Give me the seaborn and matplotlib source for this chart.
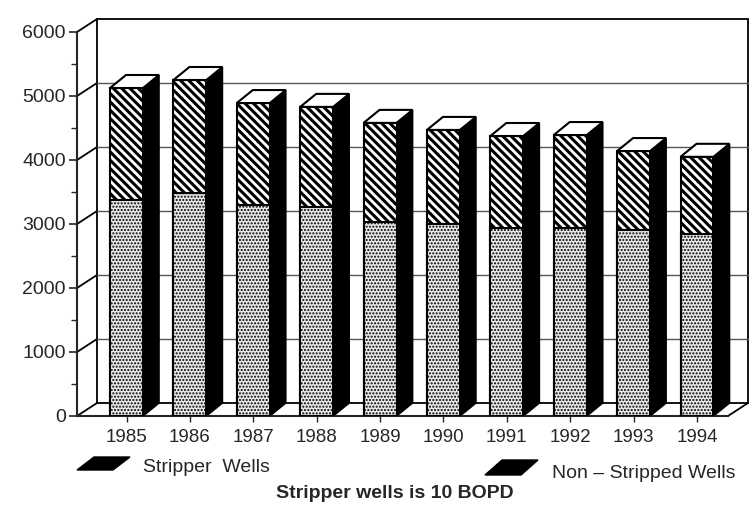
import numpy as np
import pandas as pd
import seaborn as sns
import matplotlib.pyplot as plt
from matplotlib.patches import Polygon
from matplotlib.ticker import MultipleLocator

# data
years = ['1985', '1986', '1987', '1988', '1989', '1990', '1991', '1992', '1993', '1994']
stripper = [3375, 3485, 3300, 3265, 3030, 3000, 2940, 2940, 2905, 2845]
non_stripped = [1750, 1765, 1590, 1565, 1550, 1470, 1435, 1450, 1235, 1205]
yticks = [0, 1000, 2000, 3000, 4000, 5000, 6000]

df = pd.DataFrame({'year': years, 'stripper': stripper, 'non_stripped': non_stripped})
df['total'] = df['stripper'] + df['non_stripped']

sns.set_style('white')
plt.rcParams['font.family'] = ['Liberation Sans', 'DejaVu Sans']
plt.rcParams['hatch.linewidth'] = 2.2

W, H = 754, 519
fig = plt.figure(figsize=(W / 100, H / 100), dpi=100)
# axes box in pixels: left 77, right 728, top 32, bottom 416
ax = fig.add_axes([77 / W, (H - 416) / H, (728 - 77) / W, (416 - 32) / H])

# stacked bars: full height first (hatched), then the lower part (stipple)
sns.barplot(data=df, x='year', y='total', color='white', edgecolor='black',
            linewidth=1.5, width=0.52, hatch='\\\\\\\\', ax=ax, zorder=3)
n_top = len(ax.patches)
plt.rcParams['hatch.linewidth'] = 1.0
sns.barplot(data=df, x='year', y='stripper', color='#e8e8e8', edgecolor='black',
            linewidth=1.5, width=0.52, hatch='.....', ax=ax, zorder=3)

xmin, xmax = -0.781, 9.489
ax.set_xlim(xmin, xmax)
ax.set_ylim(0, 6000)

# pixel -> data units, for the fake 3d depth
ux = (xmax - xmin) / (728 - 77)
uy = 6000 / (416 - 32)
wdx, wdy = 20 * ux, 13 * uy      # wall depth
bdx, bdy = 16 * ux, 13 * uy      # bar depth

# back wall, side wall diagonals and floor
lk = dict(color='black', lw=1.3, clip_on=False, zorder=1)
ax.plot([xmin + wdx, xmin + wdx], [wdy, 6000 + wdy], **lk)
ax.plot([xmax + wdx, xmax + wdx], [wdy, 6000 + wdy], **lk)
ax.plot([xmin + wdx, xmax + wdx], [6000 + wdy, 6000 + wdy], **lk)
ax.plot([xmin + wdx, xmax + wdx], [wdy, wdy], **lk)
ax.plot([xmax, xmax + wdx], [0, wdy], **lk)
for v in yticks:
    ax.plot([xmin, xmin + wdx], [v, v + wdy], **lk)
    if 0 < v < 6000:
        ax.plot([xmin + wdx, xmax + wdx], [v + wdy, v + wdy], color='#555555',
                lw=1.0, clip_on=False, zorder=1)

# side and top faces of every bar
for p in ax.patches[:n_top]:
    x0, w, h = p.get_x(), p.get_width(), p.get_height()
    side = Polygon([(x0 + w, 0), (x0 + w, h), (x0 + w + bdx, h + bdy), (x0 + w + bdx, bdy)],
                   closed=True, facecolor='black', edgecolor='black', lw=1.2,
                   clip_on=False, zorder=2)
    top = Polygon([(x0, h), (x0 + w, h), (x0 + w + bdx, h + bdy), (x0 + bdx, h + bdy)],
                  closed=True, facecolor='white', edgecolor='black', lw=1.5,
                  clip_on=False, zorder=4)
    ax.add_patch(side)
    ax.add_patch(top)

sns.despine(ax=ax, top=True, right=True)
ax.spines['left'].set_linewidth(1.5)
ax.spines['bottom'].set_linewidth(1.5)
ax.set_yticks(yticks)
ax.yaxis.set_minor_locator(MultipleLocator(500))
ax.tick_params(axis='y', which='major', direction='out', length=6, width=1.2,
               labelsize=14, pad=2, left=True)
ax.tick_params(axis='y', which='minor', direction='out', length=4, width=1.0, left=True)
ax.tick_params(axis='x', direction='out', length=4, width=1.0, labelsize=13.5, pad=5,
               bottom=True)
ax.set_xlabel('')
ax.set_ylabel('')


def fp(x, y):
    return (x / W, (H - y) / H)


# legend drawn by hand: black parallelogram swatches
for pts in ([(77, 470), (113, 470), (130, 457), (94, 457)],
            [(485, 475), (521, 475), (538, 460), (502, 460)]):
    fig.patches.append(Polygon([fp(*q) for q in pts], closed=True, facecolor='black',
                               edgecolor='black', transform=fig.transFigure))
fig.text(*fp(143, 467), 'Stripper  Wells', fontsize=14, va='center', ha='left')
fig.text(*fp(552, 473), 'Non – Stripped Wells', fontsize=14, va='center', ha='left')
fig.text(*fp(395, 493), 'Stripper wells is 10 BOPD', fontsize=14, fontweight='bold',
         va='center', ha='center')

fig.savefig('out.png', dpi=100)
